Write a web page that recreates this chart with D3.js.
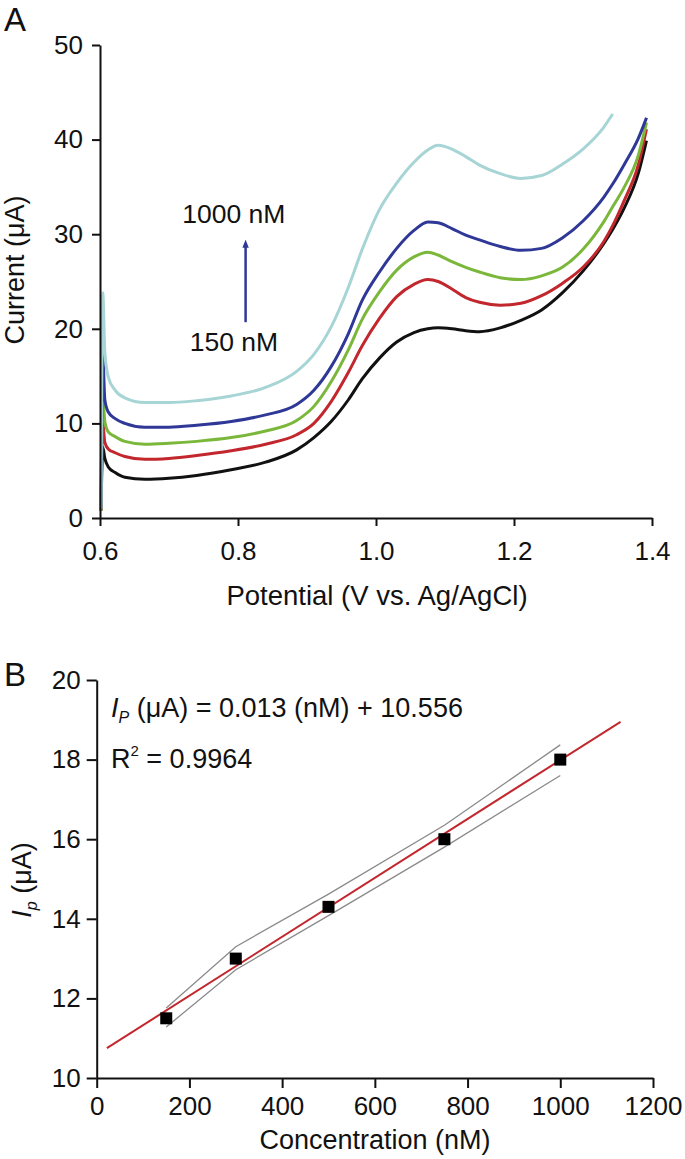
<!DOCTYPE html>
<html>
<head>
<meta charset="utf-8">
<script src="https://cdn.jsdelivr.net/npm/d3@7"></script>
<style>
  body { margin: 0; background: #fff; }
  svg text { font-family: "Liberation Sans", Arial, sans-serif; fill: #111; }
</style>
</head>
<body>
<div id="chart"></div>
<script>
// panel A: voltammograms
const potential = [0.6015, 0.604, 0.607, 0.612, 0.622, 0.636, 0.665, 0.70, 0.74, 0.79, 0.84, 0.885, 0.91, 0.935, 0.96, 0.98, 1.005, 1.03, 1.055, 1.075, 1.09, 1.11, 1.13, 1.15, 1.18, 1.21, 1.24, 1.27, 1.30, 1.33, 1.343, 1.36, 1.38, 1.392];
const current150 = [0.8, 7.5, 6.3, 5.4, 4.8, 4.3, 4.1, 4.2, 4.5, 5.1, 5.9, 7.2, 8.5, 10.2, 12.5, 14.7, 16.9, 18.6, 19.6, 20.0, 20.1, 20.0, 19.8, 19.7, 20.1, 20.9, 22.0, 23.8, 26.1, 29.0, 30.5, 32.8, 36.4, 39.9];
const current300 = [0.8, 10.0, 8.0, 7.3, 6.9, 6.5, 6.2, 6.3, 6.6, 7.1, 7.8, 8.8, 10.0, 12.3, 15.4, 18.2, 21.1, 23.4, 24.7, 25.2, 25.0, 24.2, 23.3, 22.8, 22.5, 22.7, 23.5, 24.8, 26.5, 29.2, 30.9, 33.6, 37.3, 41.1];
const current500 = [0.8, 12.7, 10.2, 9.1, 8.6, 8.1, 7.8, 7.9, 8.1, 8.5, 9.2, 10.3, 11.8, 14.4, 17.8, 21.0, 23.9, 26.2, 27.6, 28.1, 27.8, 27.1, 26.5, 26.0, 25.4, 25.2, 25.6, 26.5, 28.4, 31.3, 32.9, 35.0, 38.3, 41.8];
const current750 = [1.0, 17.2, 12.5, 11.2, 10.5, 10.0, 9.6, 9.6, 9.8, 10.2, 10.9, 12.0, 13.5, 16.0, 19.5, 23.0, 26.0, 28.5, 30.4, 31.3, 31.2, 30.6, 29.9, 29.4, 28.7, 28.3, 28.5, 29.6, 31.4, 33.9, 35.3, 37.4, 40.1, 42.3];
const current1000 = [1.0, 23.8, 17.5, 14.9, 13.5, 12.7, 12.2, 12.2, 12.4, 12.9, 13.8, 15.5, 17.3, 20.2, 24.4, 28.4, 32.6, 35.4, 37.6, 38.9, 39.4, 39.0, 38.2, 37.3, 36.4, 35.9, 36.2, 37.4, 39.0, 41.3, 42.7, null, null, null];
const seriesColors = ['#111111', '#c1272d', '#7ab73a', '#2f3896', '#a7d4d4'];
const potentialTicks = [0.6, 0.8, 1.0, 1.2, 1.4];
const currentTicks = [0, 10, 20, 30, 40, 50];

// panel B: calibration
const concentration = [150, 300, 500, 750, 1000];
const peakCurrent = [11.5, 13.0, 14.3, 16.0, 18.0];
const bandUpper = [11.76, 13.3, 14.62, 16.35, 18.37];
const bandLower = [11.28, 12.72, 14.08, 15.8, 17.6];
const fitConc = [22, 1130];
const fitCurrent = [10.75, 18.95];
const concTicks = [0, 200, 400, 600, 800, 1000, 1200];
const ipTicks = [10, 12, 14, 16, 18, 20];

const width = 685;
const height = 1159;

const svg = d3.select('#chart').append('svg').attr('width', width).attr('height', height);

svg.append('defs').append('marker')
  .attr('id', 'arrow')
  .attr('viewBox', '0 0 10 10')
  .attr('refX', 5).attr('refY', 5)
  .attr('markerWidth', 3.2).attr('markerHeight', 3.2)
  .attr('orient', 'auto')
  .append('path').attr('d', 'M0,1 L10,5 L0,9 Z').attr('fill', '#2f3896');

function styleAxis(g) {
  g.selectAll('.domain').attr('stroke', '#111').attr('stroke-width', 2);
  g.selectAll('.tick line').attr('stroke', '#111').attr('stroke-width', 2);
  g.selectAll('.tick text').style('font-size', '26px').attr('fill', '#111');
}

// ---------- panel A ----------
const xA = d3.scaleLinear().domain([0.6, 1.4]).range([100, 652]);
const yA = d3.scaleLinear().domain([0, 50]).range([518, 45]);

const seriesA = [current150, current300, current500, current750, current1000];
const lineA = d3.line()
  .defined((d) => d[1] !== null)
  .x((d) => xA(d[0]))
  .y((d) => yA(d[1]))
  .curve(d3.curveMonotoneX);

svg.append('g')
  .selectAll('path')
  .data(seriesA)
  .join('path')
  .attr('d', (s) => lineA(potential.map((v, i) => [v, s[i]])))
  .attr('fill', 'none')
  .attr('stroke', (s, i) => seriesColors[i])
  .attr('stroke-width', 3)
  .attr('stroke-linejoin', 'round');

const xAxisA = svg.append('g')
  .attr('transform', `translate(0,${yA(0)})`)
  .call(d3.axisBottom(xA).tickValues(potentialTicks).tickFormat(d3.format('.1f')).tickSize(8).tickSizeOuter(0).tickPadding(16));
styleAxis(xAxisA);

const yAxisA = svg.append('g')
  .attr('transform', `translate(${xA(0.6)},0)`)
  .call(d3.axisLeft(yA).tickValues(currentTicks).tickSize(8).tickSizeOuter(0).tickPadding(9));
styleAxis(yAxisA);

svg.append('text')
  .attr('x', 377).attr('y', 605)
  .attr('text-anchor', 'middle')
  .style('font-size', '27.5px')
  .text('Potential (V vs. Ag/AgCl)');

svg.append('text')
  .attr('transform', 'translate(24,270) rotate(-90)')
  .attr('text-anchor', 'middle')
  .style('font-size', '27px')
  .text('Current (μA)');

svg.append('text').attr('x', 4).attr('y', 31).style('font-size', '33px').text('A');

// concentration arrow
svg.append('line')
  .attr('x1', xA(0.811)).attr('x2', xA(0.811))
  .attr('y1', yA(20.7)).attr('y2', yA(29.0))
  .attr('stroke', '#2f3896').attr('stroke-width', 2.5)
  .attr('marker-end', 'url(#arrow)');

svg.append('text')
  .attr('x', xA(0.794)).attr('y', yA(31.2))
  .attr('text-anchor', 'middle')
  .style('font-size', '26.5px')
  .text('1000 nM');

svg.append('text')
  .attr('x', xA(0.794)).attr('y', yA(17.7))
  .attr('text-anchor', 'middle')
  .style('font-size', '26.5px')
  .text('150 nM');

// ---------- panel B ----------
const xB = d3.scaleLinear().domain([0, 1200]).range([96.7, 653]);
const yB = d3.scaleLinear().domain([10, 20]).range([1078, 680]);

const lineB = d3.line().x((d) => xB(d[0])).y((d) => yB(d[1]));

svg.append('g')
  .selectAll('path')
  .data([bandUpper, bandLower])
  .join('path')
  .attr('d', (b) => lineB(concentration.map((c, i) => [c, b[i]])))
  .attr('fill', 'none')
  .attr('stroke', '#8a8a8a')
  .attr('stroke-width', 1.3);

svg.append('path')
  .attr('d', lineB(fitConc.map((c, i) => [c, fitCurrent[i]])))
  .attr('fill', 'none')
  .attr('stroke', '#c1272d')
  .attr('stroke-width', 2);

svg.append('g')
  .selectAll('rect')
  .data(concentration)
  .join('rect')
  .attr('x', (d) => xB(d) - 6)
  .attr('y', (d, i) => yB(peakCurrent[i]) - 6)
  .attr('width', 12)
  .attr('height', 12)
  .attr('fill', '#000');

const xAxisB = svg.append('g')
  .attr('transform', `translate(0,${yB(10)})`)
  .call(d3.axisBottom(xB).tickValues(concTicks).tickFormat(d3.format('d')).tickSize(10).tickSizeOuter(0).tickPadding(9));
styleAxis(xAxisB);

const yAxisB = svg.append('g')
  .attr('transform', `translate(${xB(0)},0)`)
  .call(d3.axisLeft(yB).tickValues(ipTicks).tickSize(10).tickSizeOuter(0).tickPadding(6));
styleAxis(yAxisB);

svg.append('text')
  .attr('x', 375).attr('y', 1149)
  .attr('text-anchor', 'middle')
  .style('font-size', '27px')
  .text('Concentration (nM)');

const yLabelB = svg.append('text')
  .attr('transform', 'translate(31,880) rotate(-90)')
  .attr('text-anchor', 'middle')
  .style('font-size', '27px');
yLabelB.append('tspan').style('font-style', 'italic').text('I');
yLabelB.append('tspan').style('font-style', 'italic').style('font-size', '16px').attr('dy', 6).text('p');
yLabelB.append('tspan').attr('dy', -6).text(' (μA)');

svg.append('text').attr('x', 4).attr('y', 686).style('font-size', '33px').text('B');

const eq = svg.append('text').attr('x', 111).attr('y', 717).style('font-size', '27px');
eq.append('tspan').style('font-style', 'italic').text('I');
eq.append('tspan').style('font-style', 'italic').style('font-size', '16px').attr('dy', 6).text('P');
eq.append('tspan').attr('dy', -6).text(' (μA) = 0.013 (nM) + 10.556');

const r2 = svg.append('text').attr('x', 111).attr('y', 768).style('font-size', '27px');
r2.append('tspan').text('R');
r2.append('tspan').style('font-size', '15px').attr('dy', -12).text('2');
r2.append('tspan').attr('dy', 12).text(' = 0.9964');
</script>
</body>
</html>
